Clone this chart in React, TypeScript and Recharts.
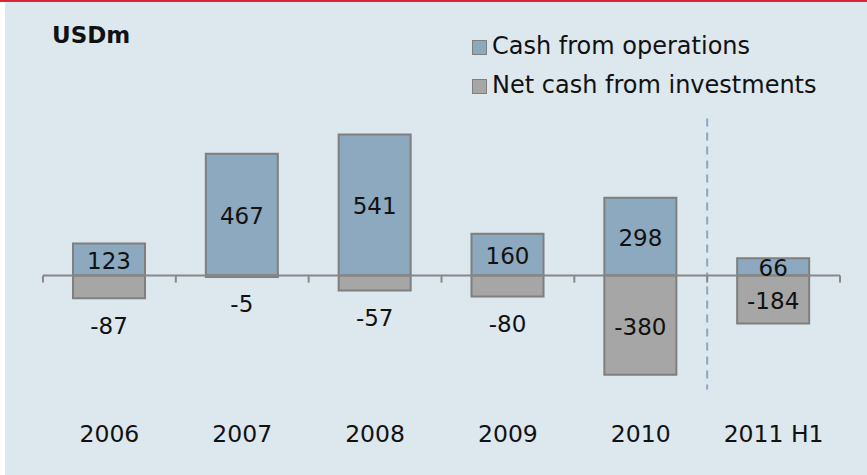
import React from 'react';
import { BarChart, Bar, XAxis, YAxis, ReferenceLine, LabelList } from 'recharts';

const categories = ['2006', '2007', '2008', '2009', '2010', '2011 H1'];
const cashFromOperations = [123, 467, 541, 160, 298, 66];
const netCashFromInvestments = [-87, -5, -57, -80, -380, -184];
const unitLabel = 'USDm';
const seriesNames = ['Cash from operations', 'Net cash from investments'];

const data = categories.map((c, i) => ({
  name: c,
  ops: cashFromOperations[i],
  inv: netCashFromInvestments[i],
}));

const FONT = '"DejaVu Sans", Verdana, sans-serif';
const BLUE = '#8DA9BF';
const GRAY = '#A6A6A6';
const BORDER = '#7F7F7F';
const seriesColors = [BLUE, GRAY];

const ValueLabel = (props: any) => {
  const { x, y, width, height, value } = props;
  const top = Math.min(y, y + height);
  const bottom = Math.max(y, y + height);
  const h = bottom - top;
  const cx = x + width / 2;
  let cy = (top + bottom) / 2 + 1;
  if (value < 0 && h < 40) cy = bottom + 27;
  return (
    <text x={cx} y={cy + 8.4} textAnchor="middle" fontFamily={FONT} fontSize={23} fill="#111">
      {value}
    </text>
  );
};

const AxisShape = (props: any) => {
  const { x1, x2, y1 } = props;
  const n = categories.length;
  const step = (x2 - x1) / n;
  const ticks = [];
  for (let i = 0; i <= n; i++) {
    const tx = x1 + i * step;
    ticks.push(<line key={i} x1={tx} x2={tx} y1={y1} y2={y1 + 7} stroke="#888" strokeWidth={2} />);
  }
  const dx = x1 + (n - 1) * step;
  return (
    <g>
      <line x1={dx} x2={dx} y1={y1 - 157} y2={y1 + 114} stroke="#8AA8C0" strokeWidth={2} strokeDasharray="8 6" />
      <line x1={x1} x2={x2} y1={y1} y2={y1} stroke="#888" strokeWidth={2} />
      {ticks}
    </g>
  );
};

export default function App() {
  return (
    <div style={{ position: 'absolute', left: 0, top: 0, width: 867, height: 475, background: '#fff', overflow: 'hidden' }}>
      <div style={{ position: 'absolute', left: 0, top: 0, width: 867, height: 2, background: '#D9263A' }} />
      <div style={{ position: 'absolute', left: 5, top: 2, width: 862, height: 473, background: '#DDE7EE' }} />
      <div
        style={{
          position: 'absolute',
          left: 52,
          top: 21,
          fontFamily: FONT,
          fontWeight: 'bold',
          fontSize: 23,
          lineHeight: '28px',
          color: '#111',
        }}
      >
        {unitLabel}
      </div>
      <div style={{ position: 'absolute', left: 472, top: 27, fontFamily: FONT, fontSize: 24, color: '#111' }}>
        {seriesNames.map((name, i) => (
          <div key={i} style={{ height: 39, lineHeight: '39px', whiteSpace: 'nowrap', position: 'relative', paddingLeft: 20 }}>
            <span
              style={{
                position: 'absolute',
                left: 0,
                top: 12.5,
                width: 13,
                height: 13,
                background: seriesColors[i],
                border: `1px solid ${BORDER}`,
              }}
            />
            {name}
          </div>
        ))}
      </div>
      <div style={{ position: 'absolute', left: 0, top: 0 }}>
        <BarChart
          width={867}
          height={475}
          data={data}
          stackOffset="sign"
          barSize={72}
          margin={{ top: 119, right: 27, bottom: 0, left: 43 }}
        >
          <YAxis hide domain={[-400, 600]} type="number" allowDataOverflow />
          <XAxis
            dataKey="name"
            height={95}
            axisLine={false}
            tickLine={false}
            tickSize={0}
            tickMargin={45}
            tick={{ fontFamily: FONT, fontSize: 23.5, fill: '#111' }}
            interval={0}
          />
          <Bar dataKey="ops" name={seriesNames[0]} stackId="a" fill={BLUE} stroke={BORDER} strokeWidth={2} isAnimationActive={false}>
            <LabelList dataKey="ops" content={<ValueLabel />} />
          </Bar>
          <Bar dataKey="inv" name={seriesNames[1]} stackId="a" fill={GRAY} stroke={BORDER} strokeWidth={2} isAnimationActive={false}>
            <LabelList dataKey="inv" content={<ValueLabel />} />
          </Bar>
          <ReferenceLine y={0} shape={<AxisShape />} ifOverflow="visible" />
        </BarChart>
      </div>
    </div>
  );
}
